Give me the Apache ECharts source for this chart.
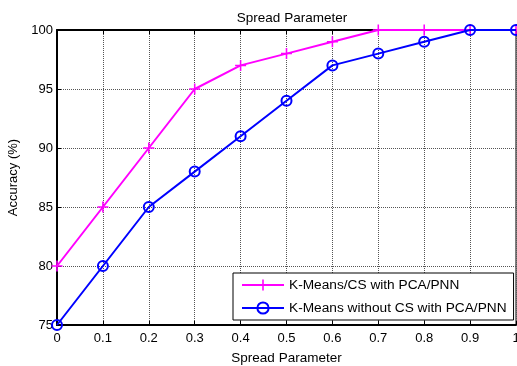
<!DOCTYPE html>
<html><head><meta charset="utf-8">
<script src="https://cdn.jsdelivr.net/npm/echarts@6/dist/echarts.min.js"></script>
<style>html,body{margin:0;padding:0;background:#fff}#c{width:517px;height:366px}</style>
</head><body><div id="c"></div>
<script>
const spread = [0, 0.1, 0.2, 0.3, 0.4, 0.5, 0.6, 0.7, 0.8, 0.9, 1.0];
const withCS = [80, 85, 90, 95, 97, 98, 99, 100, 100, 100, 100];
const withoutCS = [75, 80, 85, 88, 91, 94, 97, 98, 99, 100, 100];
const seriesNames = ['K-Means/CS with PCA/PNN', 'K-Means without CS with PCA/PNN'];
const xTicks = ['0', '0.1', '0.2', '0.3', '0.4', '0.5', '0.6', '0.7', '0.8', '0.9', '1'];

const font = 'Arial, "Liberation Sans", sans-serif';
const chart = echarts.init(document.getElementById('c'));
const pairs = ys => spread.map((x, i) => [x, ys[i]]);
chart.setOption({
  animation: false,
  backgroundColor: '#fff',
  title: { text: 'Spread Parameter', left: 287, top: 6, textAlign: 'center',
    textStyle: { fontSize: 13.5, fontWeight: 'normal', color: '#000', fontFamily: font } },
  grid: { left: 57, right: 1, top: 30, bottom: 41, show: true, borderColor: '#000', borderWidth: 1,
    outerBoundsMode: 'none', containLabel: false },
  legend: {
    left: 233, top: 273, orient: 'vertical', backgroundColor: '#fff',
    borderColor: '#000', borderWidth: 1, padding: [5, 7, 5, 8], itemGap: 9,
    itemWidth: 42, itemHeight: 14,
    textStyle: { fontSize: 13.7, color: '#000', fontFamily: font }
  },
  xAxis: [{
    type: 'value', min: 0, max: 1, interval: 0.1,
    name: 'Spread Parameter', nameLocation: 'middle', nameGap: 26,
    nameTextStyle: { fontSize: 13.5, color: '#000', fontFamily: font },
    axisLine: { lineStyle: { color: '#000', width: 2 } },
    axisTick: { inside: true, length: 4, lineStyle: { color: '#000' } },
    axisLabel: { fontSize: 13, color: '#000', fontFamily: font, margin: 7,
      formatter: v => xTicks[Math.round(v * 10)] },
    splitLine: { show: true, lineStyle: { color: '#555', type: [1, 1], width: 1 } }
  }, {
    type: 'value', min: 0, max: 1, interval: 0.1, position: 'top',
    axisLine: { lineStyle: { color: '#000', width: 2 } },
    axisTick: { inside: true, length: 4, lineStyle: { color: '#000' } },
    axisLabel: { show: false }, splitLine: { show: false }
  }],
  yAxis: {
    type: 'value', min: 75, max: 100, interval: 5,
    name: 'Accuracy (%)', nameLocation: 'middle', nameGap: 36,
    nameTextStyle: { fontSize: 13, color: '#000', fontFamily: font },
    axisLine: { show: true, lineStyle: { color: '#000', width: 2 } },
    axisTick: { show: true, inside: true, length: 4, lineStyle: { color: '#000' } },
    axisLabel: { fontSize: 13, color: '#000', fontFamily: font, margin: 4 },
    splitLine: { show: true, lineStyle: { color: '#555', type: [1, 1], width: 1 } }
  },
  series: [{
    name: seriesNames[0], type: 'line', data: pairs(withCS),
    symbol: 'path://M4.3,0H5.7V4.3H10V5.7H5.7V10H4.3V5.7H0V4.3H4.3Z', symbolSize: 11,
    lineStyle: { color: '#ff00ff', width: 2 },
    itemStyle: { color: '#ff00ff' }, z: 3
  }, {
    name: seriesNames[1], type: 'line', data: pairs(withoutCS),
    symbol: 'circle', symbolSize: 10,
    lineStyle: { color: '#0000ff', width: 2 },
    itemStyle: { color: 'rgba(255,255,255,0)', borderColor: '#0000ff', borderWidth: 2 }, z: 4
  }]
});
</script></body></html>
